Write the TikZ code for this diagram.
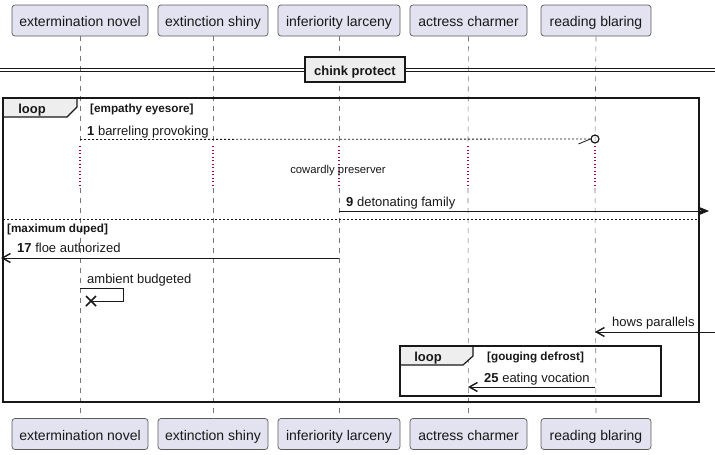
\documentclass[tikz,border=0pt]{standalone}
\usepackage{fontspec}
\setmainfont{Liberation Sans}
\usetikzlibrary{arrows.meta}
\definecolor{partfill}{HTML}{E2E2F0}
\definecolor{partdraw}{HTML}{5B5B5B}
\definecolor{lifecol}{HTML}{777777}
\definecolor{delaycol}{HTML}{A80036}
\definecolor{tabfill}{HTML}{EEEEEE}
\definecolor{ink}{HTML}{181818}
\begin{document}
\begin{tikzpicture}[x=1pt,y=-1pt,
 part/.style={draw=partdraw, fill=partfill, rounded corners=3pt, minimum height=31pt, inner sep=0pt, text height=13pt, text depth=0pt, line width=0.7pt, font=\fontsize{14}{16}\selectfont, text=ink},
 lifeline/.style={draw=lifecol, dash pattern=on 5pt off 5pt, line width=0.6pt},
 delayline/.style={draw=delaycol, dash pattern=on 1.2pt off 2.3pt, line width=1.2pt},
 msg/.style={draw=ink, line width=0.8pt},
 dashmsg/.style={draw=ink, line width=0.8pt, dash pattern=on 2pt off 2pt},
 msglbl/.style={inner sep=0pt, anchor=base west, font=\fontsize{13}{15}\selectfont, text=ink},
 smalllbl/.style={inner sep=0pt, anchor=base, font=\fontsize{11.3}{13}\selectfont, text=ink},
 guard/.style={inner sep=0pt, anchor=base west, font=\bfseries\fontsize{11.7}{13}\selectfont, text=ink},
 tablbl/.style={inner sep=0pt, anchor=base, font=\bfseries\fontsize{13}{15}\selectfont, text=ink},
 frameline/.style={draw=ink, line width=1.5pt},
 tabshape/.style={draw=ink, fill=tabfill, line width=1.2pt},
 openhead/.style={-{Straight Barb[length=8pt,width=9pt,line width=1.4pt]}},
 fullhead/.style={-{Stealth[length=11pt,width=9pt,inset=3pt]}},
 divbox/.style={draw=ink, fill=tabfill, line width=1.5pt, minimum width=100pt, minimum height=25pt, inner sep=0pt, text height=12pt, text depth=0pt, font=\bfseries\fontsize{13}{15}\selectfont, text=ink}
]
\useasboundingbox (0,0) rectangle (715,455);

% participants
\node[part, minimum width=136pt] (t1) at (80,20.5) {extermination novel};
\node[part, minimum width=110pt] (t2) at (213,20.5) {extinction shiny};
\node[part, minimum width=122pt] (t3) at (339,20.5) {inferiority larceny};
\node[part, minimum width=117pt] (t4) at (468.5,20.5) {actress charmer};
\node[part, minimum width=110pt] (t5) at (596,20.5) {reading blaring};
\node[part, minimum width=136pt] (b1) at (80,434) {extermination novel};
\node[part, minimum width=110pt] (b2) at (213,434) {extinction shiny};
\node[part, minimum width=122pt] (b3) at (339,434) {inferiority larceny};
\node[part, minimum width=117pt] (b4) at (468.5,434) {actress charmer};
\node[part, minimum width=110pt] (b5) at (596,434) {reading blaring};

% delay points on lifelines
\foreach \i/\x in {1/80,2/213,3/339,4/468,5/595}{
  \coordinate (da\i) at (\x,146);
  \coordinate (db\i) at (\x,188);
}
\foreach \i in {1,2,3,4,5}{
  \draw[lifeline] (t\i.south) -- (da\i);
  \draw[delayline] (da\i) -- (db\i);
  \draw[lifeline] (db\i) -- (b\i.north);
}

% divider
\coordinate (dvla) at (0,68.2);
\coordinate (dvra) at (715,68.2);
\coordinate (dvlb) at (0,71.2);
\coordinate (dvrb) at (715,71.2);
\draw[draw=ink, line width=1pt] (dvla) -- (dvra);
\draw[draw=ink, line width=1pt] (dvlb) -- (dvrb);
\node[divbox] (div) at (355,69.5) {chink protect};

% outer loop frame
\draw[tabshape] (3,98) -- (77,98) -- (77,107) -- (67,117) -- (3,117);
\draw[frameline] (3,98) rectangle (699,402);
\node[tablbl] (loop1) at (32,113) {loop};
\node[guard] (g1) at (90,112.5) {[empathy eyesore]};

% message 1
\coordinate (m1s) at (80,139.5);
\node[circle, draw=ink, line width=1.2pt, minimum size=8pt, inner sep=0pt] (c1) at (595,139) {};
\draw[dashmsg] (m1s) -- (c1.west);
\draw[msg] (c1.west) -- ++(-12,5);
\node[msglbl] (l1) at (87,135.5) {\textbf{1} barreling provoking};

% delay text
\node[smalllbl] (dl) at (338,173) {cowardly preserver};

% message 9
\coordinate (m9s) at (339,211);
\coordinate (m9e) at (709,211);
\draw[msg, fullhead] (m9s) -- (m9e);
\node[msglbl] (l9) at (346,206.5) {\textbf{9} detonating family};

% else separator
\coordinate (el) at (3,219.5);
\coordinate (er) at (699,219.5);
\draw[dashmsg] (el) -- (er);
\node[guard] (g2) at (7,232) {[maximum duped]};

% message 17
\coordinate (m17s) at (339,258);
\coordinate (m17e) at (1,258);
\draw[msg, openhead] (m17s) -- (m17e);
\node[msglbl] (l17) at (17,252.5) {\textbf{17} floe authorized};

% self message
\coordinate (sa) at (80,288);
\coordinate (sb) at (123,288);
\coordinate (sc) at (123,301);
\coordinate (sx) at (91,301);
\draw[msg] (sa) -- (sb) -- (sc) -- (sx);
\draw[draw=ink, line width=1.6pt] (sx) ++(-5,-5) -- ++(10,10) (sx) ++(-5,5) -- ++(10,-10);
\node[msglbl] (ls) at (87,283.5) {ambient budgeted};

% hows parallels
\coordinate (hs) at (715,332);
\coordinate (he) at (595,332);
\draw[msg, openhead] (hs) -- (he);
\node[msglbl] (lh) at (612,326.5) {hows parallels};

% inner loop
\draw[tabshape] (400,346) -- (473,346) -- (473,356) -- (463,365) -- (400,365);
\draw[frameline] (400,346) rectangle (661,396);
\node[tablbl] (loop2) at (428,361.5) {loop};
\node[guard] (g3) at (487,360.5) {[gouging defrost]};

% message 25
\coordinate (m25s) at (595,387);
\coordinate (m25e) at (468,387);
\draw[msg, openhead] (m25s) -- (m25e);
\node[msglbl] (l25) at (484,382.5) {\textbf{25} eating vocation};
\end{tikzpicture}
\end{document}
